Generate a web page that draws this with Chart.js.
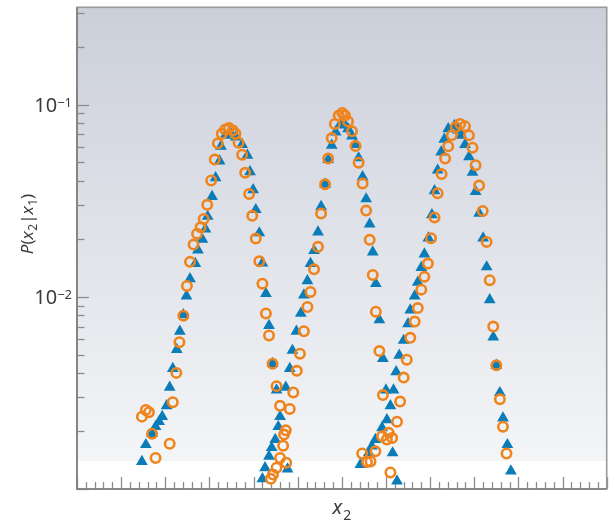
<!DOCTYPE html>
<html>
<head>
<meta charset="utf-8">
<script src="https://cdn.jsdelivr.net/npm/chart.js@4.4.1/dist/chart.umd.min.js"></script>
<style>
  html, body { margin: 0; padding: 0; background: #fff; }
  #wrap { width: 614px; height: 524px; }
</style>
</head>
<body>
<div id="wrap"><canvas id="chartCanvas" width="614" height="524"></canvas></div>
<script>
// [x2, P(x2|x1)] for each peak; triangles and rings are the two samples
const triLeft = [
  [1.47,0.00139],[1.56,0.00170],[1.70,0.00194],[1.78,0.00211],[1.86,0.00224],[1.93,0.00238],
  [2.03,0.00271],[2.10,0.00338],[2.17,0.00423],[2.26,0.00531],[2.33,0.00662],[2.41,0.00805],
  [2.48,0.0101],[2.56,0.0124],[2.68,0.0149],[2.74,0.0175],[2.84,0.0199],[2.91,0.0225],
  [2.96,0.0262],[3.06,0.0332],[3.14,0.0416],[3.23,0.0508],[3.26,0.0607],[3.36,0.0692],
  [3.49,0.0705],[3.60,0.0678],[3.74,0.0619],[3.86,0.0545],[3.92,0.0447],[3.99,0.0360],
  [4.05,0.0284],[4.13,0.0215],[4.20,0.0150],[4.28,0.0104],[4.35,0.00709],[4.43,0.00449],
  [4.52,0.00327],[4.60,0.00238],[4.77,0.00127]
];
const ringLeft = [
  [1.47,0.00238],[1.56,0.00258],[1.63,0.00251],[1.70,0.00194],[1.78,0.00145],[2.10,0.00172],
  [2.17,0.00283],[2.25,0.00402],[2.32,0.00581],[2.41,0.00798],[2.49,0.0114],[2.56,0.0152],
  [2.64,0.0187],[2.72,0.0213],[2.80,0.0230],[2.87,0.0254],[2.95,0.0301],[3.04,0.0403],
  [3.12,0.0518],[3.19,0.0629],[3.28,0.0705],[3.36,0.0743],[3.44,0.0755],[3.53,0.0734],
  [3.59,0.0705],[3.66,0.0634],[3.74,0.0549],[3.81,0.0442],[3.90,0.0343],[3.97,0.0264],
  [4.05,0.0201],[4.13,0.0153],[4.20,0.0117],[4.28,0.00820],[4.35,0.00629],[4.43,0.00449],
  [4.52,0.00343],[4.60,0.00271],[4.69,0.00192],[4.73,0.00202],[4.67,0.00168],[4.60,0.00145],
  [4.74,0.00137]
];
const triMid = [
  [4.20,0.00113],[4.26,0.00129],[4.35,0.00148],[4.41,0.00164],[4.49,0.00181],[4.56,0.00211],
  [4.73,0.00338],[4.82,0.00423],[4.88,0.00526],[4.97,0.00662],[5.07,0.00820],[5.14,0.0102],
  [5.22,0.0121],[5.29,0.0149],[5.37,0.0174],[5.46,0.0217],[5.53,0.0295],[5.62,0.0385],
  [5.69,0.0518],[5.77,0.0614],[5.86,0.0719],[5.97,0.0794],[6.07,0.0782],[6.14,0.0748],
  [6.23,0.0686],[6.31,0.0619],[6.38,0.0528],[6.47,0.0421],[6.55,0.0323],[6.63,0.0239],
  [6.70,0.0171],[6.77,0.0117],[6.85,0.00758],[6.93,0.00477],[7.00,0.00327],[7.15,0.00154],
  [7.25,0.00110]
];
const ringMid = [
  [4.39,0.00113],[4.44,0.00119],[4.52,0.00129],[4.82,0.00261],[4.90,0.00318],[4.98,0.00412],
  [5.05,0.00506],[5.14,0.00662],[5.22,0.00885],[5.29,0.0106],[5.37,0.0139],[5.46,0.0182],
  [5.53,0.0271],[5.62,0.0385],[5.69,0.0524],[5.77,0.0670],[5.84,0.0794],[5.93,0.0877],
  [6.01,0.0905],[6.07,0.0877],[6.14,0.0817],[6.23,0.0726],[6.31,0.0609],[6.38,0.0499],
  [6.47,0.0389],[6.55,0.0281],[6.63,0.0198],[6.70,0.0130],[6.77,0.00837],[6.85,0.00522],
  [6.93,0.00308],[7.25,0.00224],[7.10,0.00122]
];
const triRight = [
  [6.42,0.00134],[6.61,0.00154],[6.68,0.00167],[6.76,0.00181],[6.91,0.00208],[7.02,0.00229],
  [7.10,0.00271],[7.17,0.00327],[7.23,0.00407],[7.30,0.00496],[7.40,0.00593],[7.50,0.00723],
  [7.55,0.00854],[7.65,0.0101],[7.72,0.0119],[7.80,0.0142],[7.87,0.0167],[7.96,0.0202],
  [8.04,0.0267],[8.10,0.0356],[8.17,0.0456],[8.25,0.0567],[8.32,0.0660],[8.41,0.0748],
  [8.55,0.0779],[8.63,0.0737],[8.71,0.0692],[8.79,0.0619],[8.88,0.0535],[8.96,0.0444],
  [9.03,0.0353],[9.11,0.0272],[9.20,0.0202],[9.28,0.0143],[9.35,0.00965],[9.43,0.00617],
  [9.50,0.00440],[9.58,0.00317],[9.65,0.00234],[9.75,0.00170],[9.83,0.00124]
];
const ringRight = [
  [6.46,0.00153],[6.57,0.00138],[6.65,0.00139],[6.76,0.00157],[6.91,0.00188],[7.02,0.00181],
  [7.14,0.00184],[7.06,0.00196],[7.32,0.00285],[7.40,0.00380],[7.47,0.00471],[7.55,0.00612],
  [7.65,0.00743],[7.72,0.00874],[7.80,0.0109],[7.87,0.0127],[7.95,0.0149],[8.02,0.0202],
  [8.10,0.0259],[8.17,0.0346],[8.26,0.0435],[8.34,0.0524],[8.41,0.0607],[8.49,0.0692],
  [8.58,0.0764],[8.68,0.0794],[8.79,0.0773],[8.88,0.0692],[8.96,0.0597],[9.03,0.0484],
  [9.11,0.0379],[9.19,0.0280],[9.28,0.0193],[9.35,0.0122],[9.43,0.00700],[9.50,0.00440],
  [9.58,0.00293],[9.65,0.00211],[9.73,0.00153]
];

// y axis decades that get a "10^n" label
const yLabelExps = [-1, -2];
const xMin = 0, xMax = 12;
const yMin = 0.001, yMax = 0.321;

const FONT = '"Noto Sans", "Open Sans", sans-serif';
const TEXT = '#3b3b3b';
const AXIS = '#8c8c8c';

const toPts = (arr) => arr.map(([x, y]) => ({ x, y }));

// text made of runs (for italics, sub- and superscripts)
function runFont(r) {
  return (r.italic ? 'italic ' : '') + r.size + 'px ' + FONT;
}
function runsWidth(ctx, runs) {
  let w = 0;
  runs.forEach((r) => { ctx.font = runFont(r); w += ctx.measureText(r.t).width + (r.gap || 0); });
  return w;
}
function drawRuns(ctx, runs, x, y) {
  let cx = x;
  runs.forEach((r) => {
    ctx.font = runFont(r);
    ctx.fillText(r.t, cx, y + (r.dy || 0));
    cx += ctx.measureText(r.t).width + (r.gap || 0);
  });
}

const framePlugin = {
  id: 'frame',
  beforeDatasetsDraw(chart) {
    const { ctx, chartArea: a, scales } = chart;
    ctx.save();
    // panel background: bluish grey fading to white near the bottom
    const fadeEnd = 461;
    const g = ctx.createLinearGradient(0, a.top, 0, fadeEnd);
    g.addColorStop(0, 'rgb(203,207,218)');
    g.addColorStop(1, 'rgb(244,245,247)');
    ctx.fillStyle = g;
    ctx.fillRect(a.left, a.top, a.right - a.left, fadeEnd - a.top);
    ctx.fillStyle = '#ffffff';
    ctx.fillRect(a.left, fadeEnd, a.right - a.left, a.bottom - fadeEnd);

    // inward ticks on the x axis
    ctx.strokeStyle = AXIS;
    ctx.lineWidth = 1.3;
    const xs = scales.x;
    for (let i = 0; i <= (xMax - xMin) * 5; i++) {
      const v = xMin + i * 0.2;
      const px = Math.round(xs.getPixelForValue(v)) + 0.5;
      const len = i % 5 === 0 ? 12 : 7;
      ctx.beginPath();
      ctx.moveTo(px, a.bottom);
      ctx.lineTo(px, a.bottom - len);
      ctx.stroke();
    }
    // inward ticks on the log y axis
    const ys = scales.y;
    for (let e = -3; e <= -1; e++) {
      for (let m = 1; m <= 9; m++) {
        const v = m * Math.pow(10, e);
        if (v < yMin || v > yMax) continue;
        const py = Math.round(ys.getPixelForValue(v)) + 0.5;
        const len = m === 1 ? 12 : 7.5;
        ctx.beginPath();
        ctx.moveTo(a.left, py);
        ctx.lineTo(a.left + len, py);
        ctx.stroke();
      }
    }
    // frame
    ctx.lineWidth = 1.6;
    ctx.strokeStyle = '#9a9a9a';
    ctx.strokeRect(a.left, a.top, a.right - a.left, a.bottom - a.top);
    ctx.strokeStyle = '#7d7d7d';
    ctx.beginPath();
    ctx.moveTo(a.left, a.top);
    ctx.lineTo(a.left, a.bottom);
    ctx.lineTo(a.right, a.bottom);
    ctx.stroke();
    ctx.restore();
  },
  afterDraw(chart) {
    const { ctx, chartArea: a, scales } = chart;
    ctx.save();
    ctx.fillStyle = TEXT;
    ctx.textBaseline = 'alphabetic';

    // y tick labels 10^n
    yLabelExps.forEach((e) => {
      const py = scales.y.getPixelForValue(Math.pow(10, e));
      const runs = [
        { t: '10', size: 20 },
        { t: '\u2212' + Math.abs(e), size: 13, dy: -5 }
      ];
      const w = runsWidth(ctx, runs);
      drawRuns(ctx, runs, 72 - w, py + 7);
    });

    // x axis title
    const xRuns = [
      { t: 'x', size: 20, italic: true, gap: 1 },
      { t: '2', size: 14, dy: 6 }
    ];
    const xw = runsWidth(ctx, xRuns);
    drawRuns(ctx, xRuns, (a.left + a.right) / 2 - xw / 2, 514);

    // y axis title, rotated
    const yRuns = [
      { t: 'P', size: 17, italic: true },
      { t: '(', size: 17 },
      { t: 'x', size: 17, italic: true, gap: 0.5 },
      { t: '2', size: 12, dy: 4 },
      { t: '|', size: 17 },
      { t: 'x', size: 17, italic: true, gap: 0.5 },
      { t: '1', size: 12, dy: 4 },
      { t: ')', size: 17 }
    ];
    const yw = runsWidth(ctx, yRuns);
    ctx.translate(33, 224);
    ctx.rotate(-Math.PI / 2);
    drawRuns(ctx, yRuns, -yw / 2, 0);
    ctx.restore();
  }
};

const ring = {
  pointStyle: 'circle',
  pointRadius: 4.7,
  pointHoverRadius: 4.7,
  pointBorderWidth: 2.6,
  pointBorderColor: '#ef841c',
  pointBackgroundColor: 'rgba(0,0,0,0)',
  showLine: false,
  order: 0
};
const tri = {
  pointStyle: 'triangle',
  pointRadius: 6.8,
  pointHoverRadius: 6.8,
  pointBorderWidth: 0,
  pointBackgroundColor: '#0a7db8',
  pointBorderColor: '#0a7db8',
  showLine: false,
  order: 1
};

new Chart(document.getElementById('chartCanvas'), {
  type: 'scatter',
  data: {
    datasets: [
      Object.assign({ label: 'rings', data: toPts([...ringLeft, ...ringMid, ...ringRight]) }, ring),
      Object.assign({ label: 'triangles', data: toPts([...triLeft, ...triMid, ...triRight]) }, tri)
    ]
  },
  options: {
    responsive: false,
    animation: false,
    events: [],
    layout: { padding: { top: 4, right: 6, left: 0, bottom: 0 } },
    plugins: { legend: { display: false }, tooltip: { enabled: false } },
    scales: {
      x: {
        type: 'linear',
        min: xMin,
        max: xMax,
        grid: { display: false },
        border: { display: false },
        ticks: { display: false },
        afterFit: (s) => { s.height = 35; }
      },
      y: {
        type: 'logarithmic',
        min: yMin,
        max: yMax,
        grid: { display: false },
        border: { display: false },
        ticks: { display: false },
        afterFit: (s) => { s.width = 77; }
      }
    }
  },
  plugins: [framePlugin]
});
</script>
</body>
</html>
